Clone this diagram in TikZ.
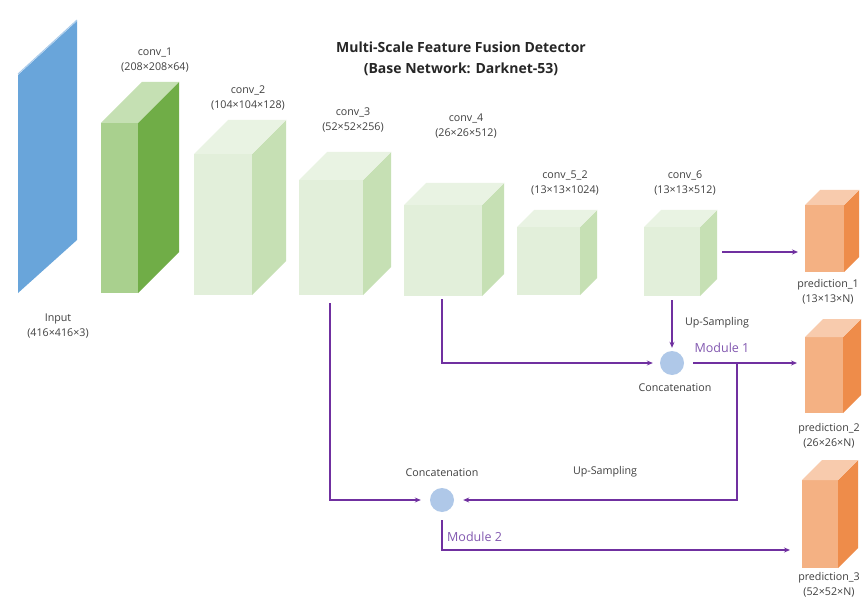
\documentclass[tikz,border=0pt]{standalone}
\usepackage{fontspec}
\setmainfont{Open Sans}
\usetikzlibrary{arrows.meta,calc}
\definecolor{txt}{HTML}{404040}
\definecolor{purp}{HTML}{7030A0}
\definecolor{modc}{HTML}{8258B0}
\definecolor{inblue}{HTML}{69A5DA}
\definecolor{inlight}{HTML}{A9CBEB}
\definecolor{circ}{HTML}{AFC8E8}
\definecolor{gAF}{HTML}{A9D08E}
\definecolor{gAS}{HTML}{70AD47}
\definecolor{gAT}{HTML}{C5E0B3}
\definecolor{gBF}{HTML}{E2EFDA}
\definecolor{gBS}{HTML}{C6E0B4}
\definecolor{gBT}{HTML}{E9F3E3}
\definecolor{oF}{HTML}{F4B183}
\definecolor{oS}{HTML}{EE8C4A}
\definecolor{oT}{HTML}{F8CBAD}
\tikzset{
  cubefront/.style={draw=none,inner sep=0pt,outer sep=0pt,anchor=north west},
  lbl/.style={text=txt,align=center,inner sep=0pt,font=\fontsize{10.7}{14.5}\selectfont},
  modlbl/.style={text=modc,inner sep=0pt,font=\fontsize{12.5}{15}\selectfont},
  ttl/.style={text=black!85,align=center,inner sep=0pt,font=\fontsize{14}{21}\selectfont\bfseries},
  conn/.style={draw=purp,line width=1.3pt},
  arr/.style={conn,-{Stealth[length=6pt,width=5pt]}},
  cat/.style={circle,fill=circ,draw=none,minimum size=24pt,inner sep=0pt},
}
\newcommand\mycube[7]{%
  \node[cubefront,fill=#7F,minimum width=#4pt,minimum height=#5pt] (#1) at (#2,#3) {};
  \fill[#7S] (#1.north east) -- ++(#6,-#6) -- ++(0,#5) -- (#1.south east) -- cycle;
  \fill[#7T] (#1.north west) -- ++(#6,-#6) -- ++(#4,0) -- (#1.north east) -- cycle;
}
\begin{document}
\begin{tikzpicture}[x=1pt,y=-1pt]
\useasboundingbox[fill=white] (0,0) rectangle (865,604);
% title
\node[ttl] (title) at (461,59) {Multi-Scale Feature Fusion Detector\\(Base Network: Darknet-53)};
% input slab
\fill[inblue] (18,75) -- (77,21) -- (77,240) -- (18,293) -- cycle;
\draw[inlight,line width=1pt] (18,74) -- (77,20);
\node[lbl] (inlbl) at (58,326) {Input\\(416×416×3)};
% cuboids
\mycube{conv1}{101}{123}{37}{170}{41}{gA}
\mycube{conv2}{194}{154}{58}{141}{34}{gB}
\mycube{conv3}{299}{180}{64}{115}{28}{gB}
\mycube{conv4}{404}{205}{78}{91}{22}{gB}
\mycube{conv5}{517}{227}{63}{68}{17}{gB}
\mycube{conv6}{644}{227}{56}{69}{17}{gB}
\mycube{pred1}{805}{205}{39}{67}{15}{o}
\mycube{pred2}{805}{337}{38}{76}{18}{o}
\mycube{pred3}{802}{480}{36}{88}{20}{o}
% labels
\node[lbl] (l1) at (155,60) {conv\_1\\(208×208×64)};
\node[lbl] (l2) at (248,98) {conv\_2\\(104×104×128)};
\node[lbl] (l3) at (353,120) {conv\_3\\(52×52×256)};
\node[lbl] (l4) at (466,126) {conv\_4\\(26×26×512)};
\node[lbl] (l5) at (565,183) {conv\_5\_2\\(13×13×1024)};
\node[lbl] (l6) at (685,183) {conv\_6\\(13×13×512)};
\node[lbl] (lp1) at (828,292) {prediction\_1\\(13×13×N)};
\node[lbl] (lp2) at (829,436) {prediction\_2\\(26×26×N)};
\node[lbl] (lp3) at (829,585) {prediction\_3\\(52×52×N)};
% concatenation circles
\node[cat] (cc1) at (672,363) {};
\node[cat] (cc2) at (442,500) {};
\node[lbl] (cl1) at (675,388) {Concatenation};
\node[lbl] (cl2) at (442,473) {Concatenation};
\node[lbl] (up1) at (717,323) {Up-Sampling};
\node[lbl] (up2) at (605,472) {Up-Sampling};
\node[modlbl] (m1) at (722,348) {Module 1};
\node[modlbl,anchor=west] (m2) at (447,537) {Module 2};
% connectors
\coordinate (o6) at (722,252);
\draw[arr,shorten >=7pt] (o6) -- (o6 -| pred1.west);
\draw[arr,shorten <=4pt,shorten >=3pt] (conv6.south -| cc1) -- (cc1.north);
\coordinate (d4) at (442,299);
\draw[arr,shorten >=7pt] (d4) |- (cc1.west);
\draw[arr,shorten <=9pt,shorten >=8pt] (cc1.east) -- (cc1.east -| pred2.west);
\coordinate (br) at (737,363);
\draw[arr,shorten >=9pt] (br) |- (cc2.east);
\coordinate (d3) at (330,303);
\draw[arr,shorten >=9pt] (d3) |- (cc2.west);
\coordinate (m2s) at (442,520);
\coordinate (m2e) at (442,550);
\draw[arr,shorten >=12pt] (m2s) -- (m2e) -- (m2e -| pred3.west);
\end{tikzpicture}
\end{document}
